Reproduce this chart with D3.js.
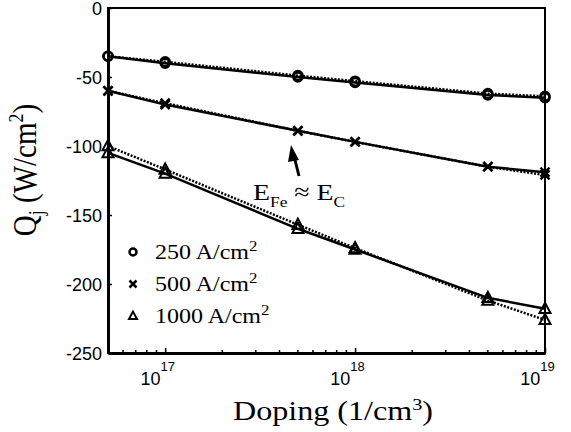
<!DOCTYPE html>
<html>
<head>
<meta charset="utf-8">
<script src="https://cdn.jsdelivr.net/npm/d3@7"></script>
<style>
  body { margin: 0; background: #fff; }
  svg { display: block; }
  .tick text { font-family: "Liberation Sans", Arial, sans-serif; font-size: 18px; fill: #000; }
</style>
</head>
<body>
<svg id="chart" width="571" height="432"></svg>
<script>
// doping levels (1/cm3)
var doping = [5e16, 1e17, 5e17, 1e18, 5e18, 1e19];
// Qj (W/cm2), solid = model, dotted = fit
var q250Solid  = [-35, -40, -50, -54, -63, -65];
var q250Dotted = [-35, -39, -49, -53, -62, -64];
var q500Solid  = [-60, -70, -89, -97, -115, -119];
var q500Dotted = [-60, -69, -89, -97, -115, -121];
var q1000Solid  = [-105, -120, -160, -175, -210, -218];
var q1000Dotted = [-100, -117, -157, -174, -212, -226];
var yTicks = [0, -50, -100, -150, -200, -250];
var xTicks = [1e17, 1e18, 1e19];
var legendLabels = ["250", "500", "1000"];

var margin = {left: 108, right: 26, top: 8, bottom: 79};
var width = 571, height = 432;
var serif = '"Liberation Serif", "Times New Roman", serif';
var stretch = 1.19; // the source picture is a little wider than tall
var svg = d3.select('#chart');

var x = d3.scaleLog().domain([5e16, 1e19]).range([margin.left, width - margin.right]);
var y = d3.scaleLinear().domain([-250, 0]).range([height - margin.bottom, margin.top]);

var series = [
  {vals: q250Solid,  dash: null,  mark: 'circle'},
  {vals: q250Dotted, dash: '2,1.5', mark: 'circle'},
  {vals: q500Solid,  dash: null,  mark: 'cross'},
  {vals: q500Dotted, dash: '2,1.5', mark: 'cross'},
  {vals: q1000Solid,  dash: null,  mark: 'tri'},
  {vals: q1000Dotted, dash: '2,1.5', mark: 'tri'}
];

var line = d3.line()
  .x(function(d, i){ return x(doping[i]); })
  .y(function(d){ return y(d); });

// frame
svg.append('rect')
  .attr('x', x.range()[0]).attr('y', y.range()[1])
  .attr('width', x.range()[1] - x.range()[0])
  .attr('height', y.range()[0] - y.range()[1])
  .attr('fill', 'none').attr('stroke', '#000').attr('stroke-width', 2);

// minor x ticks (inside)
var minor = [];
[1e16, 1e17, 1e18].forEach(function(dec){
  for (var k = 2; k <= 9; k++) {
    var v = dec * k;
    if (v >= 5e16 && v <= 1e19) minor.push(v);
  }
});
svg.append('g').selectAll('line').data(minor).enter().append('line')
  .attr('x1', function(d){ return x(d); }).attr('x2', function(d){ return x(d); })
  .attr('y1', y(-250)).attr('y2', y(-250) - 3)
  .attr('stroke', '#000').attr('stroke-width', 1.5);

// x axis
var xAxis = svg.append('g')
  .attr('transform', 'translate(0,' + y(-250) + ')')
  .call(d3.axisBottom(x).tickValues(xTicks).tickSizeInner(-5).tickSizeOuter(0).tickFormat(''));
xAxis.select('.domain').attr('stroke-width', 3);
xAxis.selectAll('.tick line').attr('stroke-width', 1.5);
xAxis.selectAll('.tick').append('text')
  .attr('y', 32).attr('text-anchor', 'middle').attr('x', 0)
  .each(function(d){
    var t = d3.select(this);
    t.append('tspan').attr('x', -8).text('10');
    t.append('tspan').attr('dy', -14).style('font-size', '13px').text(Math.round(Math.log10(d)));
  });

// y axis
var yAxis = svg.append('g')
  .attr('transform', 'translate(' + x(5e16) + ',0)')
  .call(d3.axisLeft(y).tickValues(yTicks).tickSizeInner(-4).tickSizeOuter(0).tickPadding(6)
    .tickFormat(function(d){ return d; }));
yAxis.select('.domain').attr('stroke-width', 3);
yAxis.selectAll('.tick line').attr('stroke-width', 1.5);
yAxis.selectAll('.tick text').attr('dy', '0.35em');

// data lines
series.forEach(function(s){
  svg.append('path').datum(s.vals)
    .attr('d', line)
    .attr('fill', 'none').attr('stroke', '#000')
    .attr('stroke-width', 2.5)
    .attr('stroke-dasharray', s.dash);
});

function drawMark(g, type, cx, cy, sz) {
  if (type === 'circle') {
    g.append('circle').attr('cx', cx).attr('cy', cy).attr('r', sz)
      .attr('fill', 'none').attr('stroke', '#000').attr('stroke-width', 2.5);
  } else if (type === 'cross') {
    g.append('path')
      .attr('d', 'M' + (cx - sz) + ',' + (cy - sz) + 'L' + (cx + sz) + ',' + (cy + sz) +
                 'M' + (cx - sz) + ',' + (cy + sz) + 'L' + (cx + sz) + ',' + (cy - sz))
      .attr('stroke', '#000').attr('stroke-width', 2.5);
  } else {
    var h = sz * 1.1;
    g.append('path')
      .attr('d', 'M' + cx + ',' + (cy - h) + 'L' + (cx + sz) + ',' + (cy + h * 0.7) +
                 'L' + (cx - sz) + ',' + (cy + h * 0.7) + 'Z')
      .attr('fill', 'none').attr('stroke', '#000').attr('stroke-width', 2);
  }
}

var marks = svg.append('g');
series.forEach(function(s){
  s.vals.forEach(function(v, i){
    drawMark(marks, s.mark, x(doping[i]), y(v), s.mark === 'tri' ? 5.5 : 4.5);
  });
});

// stretched text helper
function wideText(px, py, size, sx) {
  return svg.append('text')
    .attr('transform', 'translate(' + px + ',' + py + ') scale(' + sx + ',1)')
    .style('font-family', serif)
    .style('font-size', size + 'px');
}

// legend
var legend = svg.append('g');
var legendMarks = ['circle', 'cross', 'tri'];
var legendY = [252, 284, 316];
legendLabels.forEach(function(lab, i){
  drawMark(legend, legendMarks[i], 133, legendY[i], legendMarks[i] === 'tri' ? 4 : 3.5);
  var t = wideText(155, legendY[i] + 7, 20, 1.2);
  t.append('tspan').text(lab + ' A/cm');
  t.append('tspan').attr('dy', -8).style('font-size', '14px').text('2');
});

// annotation
var ann = wideText(253, 200, 24, 1.16);
ann.append('tspan').text('E');
ann.append('tspan').attr('dy', 7).style('font-size', '15px').text('Fe');
ann.append('tspan').attr('dy', -7).text(' \u2248 E');
ann.append('tspan').attr('dy', 7).style('font-size', '15px').text('C');

svg.append('line')
  .attr('x1', 299).attr('y1', 176).attr('x2', 294).attr('y2', 156)
  .attr('stroke', '#000').attr('stroke-width', 3);
svg.append('path')
  .attr('d', 'M291,145 L299,160 L288,162 Z')
  .attr('fill', '#000');

// axis titles
var xt = wideText(233, 420, 27, stretch);
xt.append('tspan').text('Doping (1/cm');
xt.append('tspan').attr('dy', -10).style('font-size', '17px').text('3');
xt.append('tspan').attr('dy', 10).text(')');

var yt = svg.append('text')
  .attr('transform', 'translate(36,170) rotate(-90) scale(1,' + stretch + ')')
  .attr('text-anchor', 'middle')
  .style('font-family', serif)
  .style('font-size', '29px');
yt.append('tspan').text('Q');
yt.append('tspan').attr('dy', 6).style('font-size', '18px').text('j');
yt.append('tspan').attr('dy', -6).text(' (W/cm');
yt.append('tspan').attr('dy', -11).style('font-size', '18px').text('2');
yt.append('tspan').attr('dy', 11).text(')');
</script>
</body>
</html>
